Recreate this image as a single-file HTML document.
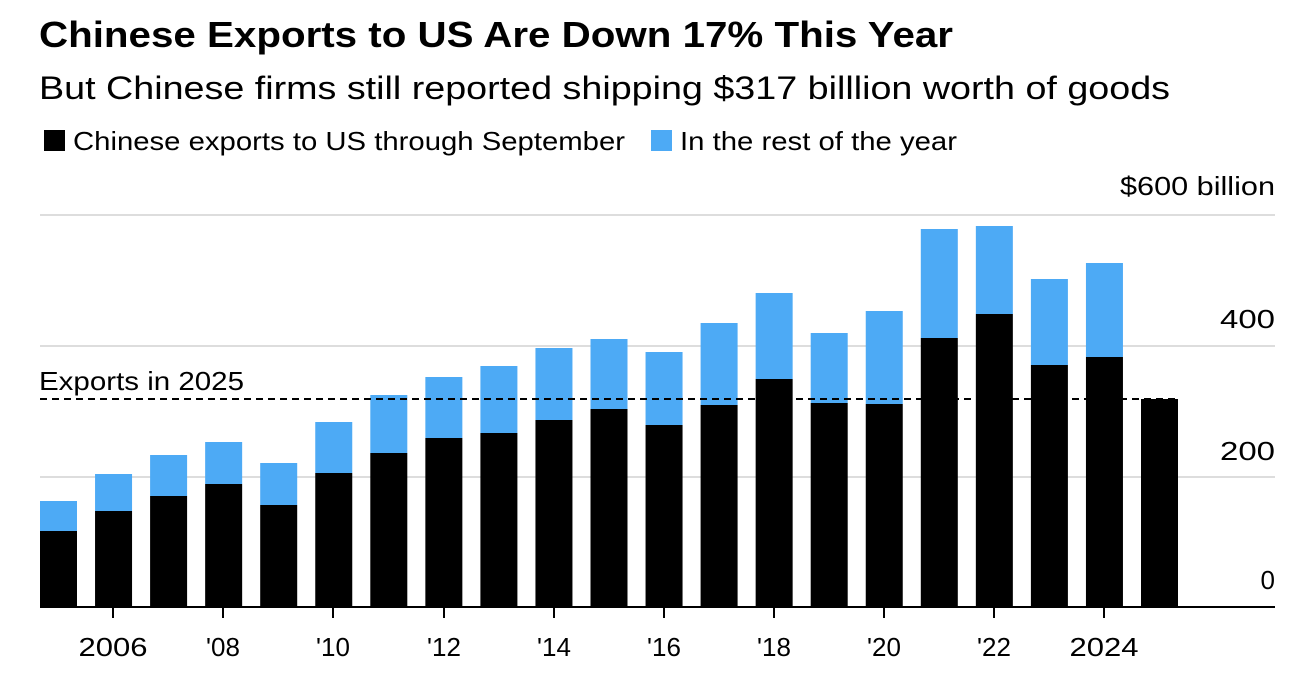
<!DOCTYPE html>
<html><head><meta charset="utf-8"><style>
body{margin:0;background:#fff;width:1311px;height:675px;overflow:hidden;font-family:"Liberation Sans",Arial,sans-serif;}
</style></head><body>
<svg width="1311" height="675" xmlns="http://www.w3.org/2000/svg" font-family="Liberation Sans, Arial, sans-serif">
<text x="39" y="47" font-size="36" font-weight="bold" fill="#000" textLength="914" lengthAdjust="spacingAndGlyphs">Chinese Exports to US Are Down 17% This Year</text>
<text x="39" y="99" font-size="32" fill="#000" textLength="1131" lengthAdjust="spacingAndGlyphs">But Chinese firms still reported shipping $317 billlion worth of goods</text>
<rect x="44" y="130" width="21" height="21" fill="#000"/>
<text x="73" y="150" font-size="26" fill="#000" textLength="552" lengthAdjust="spacingAndGlyphs">Chinese exports to US through September</text>
<rect x="651" y="130" width="21" height="21" fill="#4daaf5"/>
<text x="680" y="150" font-size="26" fill="#000" textLength="277" lengthAdjust="spacingAndGlyphs">In the rest of the year</text>
<g stroke="#ddd" stroke-width="2">
<line x1="40" y1="215" x2="1275" y2="215"/>
<line x1="40" y1="346" x2="1275" y2="346"/>
<line x1="40" y1="477" x2="1275" y2="477"/>
</g>
<g font-size="26" fill="#000" text-anchor="end">
<text x="1275" y="195" textLength="155" lengthAdjust="spacingAndGlyphs">$600 billion</text>
<text x="1275" y="328" textLength="55" lengthAdjust="spacingAndGlyphs">400</text>
<text x="1275" y="460" textLength="55" lengthAdjust="spacingAndGlyphs">200</text>
<text x="1275" y="589">0</text>
</g>
<g id="bars"></g>
<line x1="40" y1="399" x2="1180" y2="399" stroke="#000" stroke-width="2" stroke-dasharray="7,5"/>
<text x="39" y="390" font-size="26" fill="#000" textLength="205" lengthAdjust="spacingAndGlyphs">Exports in 2025</text>
<line x1="40" y1="607" x2="1275" y2="607" stroke="#000" stroke-width="2"/>
<g stroke="#000" stroke-width="2">
<line x1="113" y1="607" x2="113" y2="618"/><line x1="223" y1="607" x2="223" y2="618"/>
<line x1="333" y1="607" x2="333" y2="618"/><line x1="444" y1="607" x2="444" y2="618"/>
<line x1="554" y1="607" x2="554" y2="618"/><line x1="664" y1="607" x2="664" y2="618"/>
<line x1="774" y1="607" x2="774" y2="618"/><line x1="884" y1="607" x2="884" y2="618"/>
<line x1="994" y1="607" x2="994" y2="618"/><line x1="1104" y1="607" x2="1104" y2="618"/>
</g>
<g font-size="26" fill="#000" text-anchor="middle">
<text x="113" y="656" textLength="69" lengthAdjust="spacingAndGlyphs">2006</text><text x="223" y="656">'08</text><text x="333" y="656">'10</text>
<text x="444" y="656">'12</text><text x="554" y="656">'14</text><text x="664" y="656">'16</text>
<text x="774" y="656">'18</text><text x="884" y="656">'20</text><text x="994" y="656">'22</text>
<text x="1104" y="656" textLength="69" lengthAdjust="spacingAndGlyphs">2024</text>
</g>
</svg>
<script>
var d=[[531,501],[511,474],[496,455],[484,442],[505,463],[473,422],[453,395],[438,377],[433,366],[420,348],[409,339],[425,352],[405,323],[379,293],[403,333],[404,311],[338,229],[314,226],[365,279],[357,263],[399,399]];
var g=document.getElementById('bars'),s='';
d.forEach(function(v,i){var x=40+i*55.05;
s+='<rect x="'+x+'" y="'+v[1]+'" width="37" height="'+(v[0]-v[1])+'" fill="#4daaf5"/>';
s+='<rect x="'+x+'" y="'+v[0]+'" width="37" height="'+(607-v[0])+'" fill="#000"/>';});
g.innerHTML=s;
</script>
</body></html>
